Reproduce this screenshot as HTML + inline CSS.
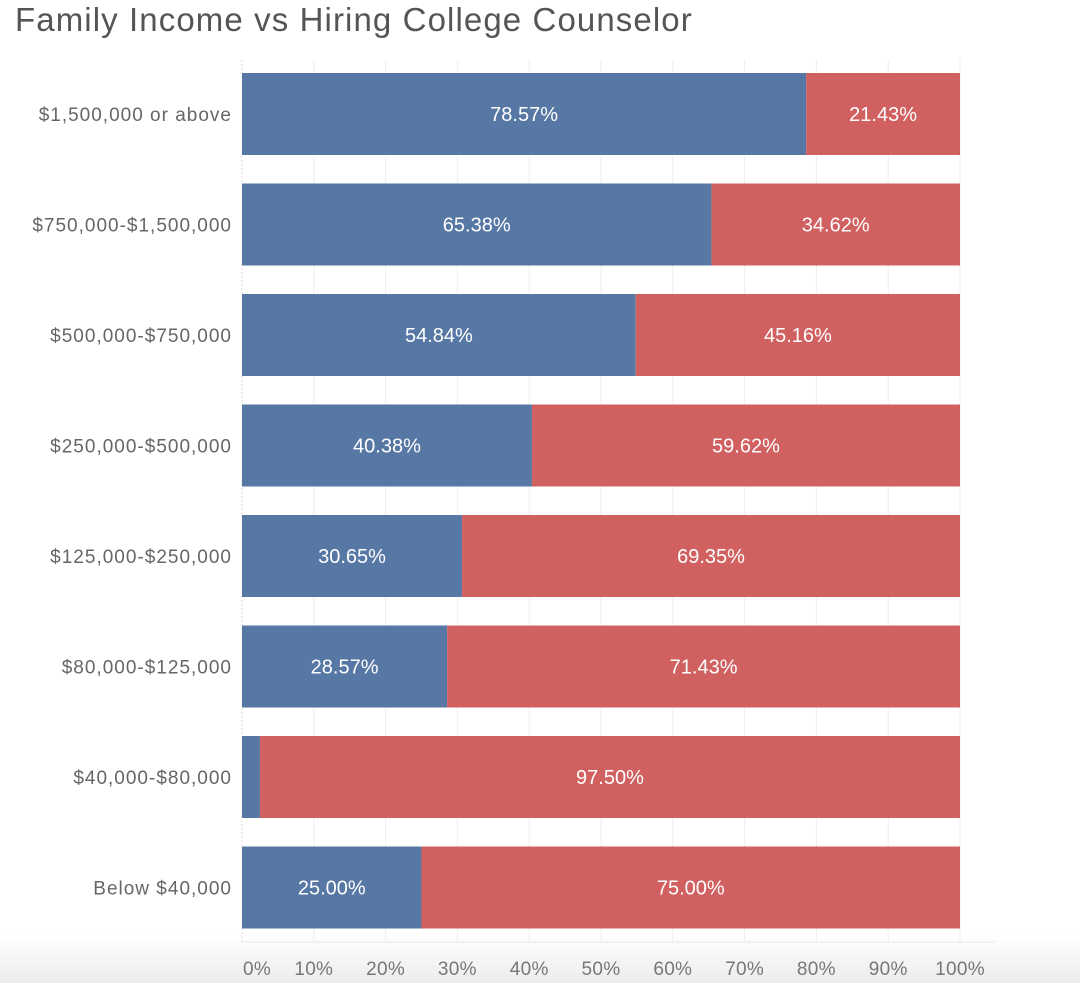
<!DOCTYPE html>
<html><head><meta charset="utf-8"><style>
body{margin:0;width:1080px;height:983px;background:#fff;overflow:hidden;font-family:"Liberation Sans",sans-serif}
#bg{position:absolute;left:0;top:935px;width:1080px;height:48px;background:linear-gradient(#fff,#ececec)}
h1{position:absolute;left:15px;top:1px;margin:0;font-weight:normal;font-size:33px;color:#555;letter-spacing:1.1px}
svg{position:absolute;left:0;top:0}
</style></head><body>
<div id="bg"></div>
<h1>Family Income vs Hiring College Counselor</h1>
<svg id="c" width="1080" height="983"></svg>
<script>
const categories=["$1,500,000 or above","$750,000-$1,500,000","$500,000-$750,000","$250,000-$500,000","$125,000-$250,000","$80,000-$125,000","$40,000-$80,000","Below $40,000"];
const hired=[78.57,65.38,54.84,40.38,30.65,28.57,2.50,25.00];
const notHired=[21.43,34.62,45.16,59.62,69.35,71.43,97.50,75.00];
const ticks=[0,10,20,30,40,50,60,70,80,90,100];
const NS="http://www.w3.org/2000/svg";
const svg=document.getElementById('c');
const x=v=>242+v*(960-242)/100;
const y=i=>73+i*110.5;
const BH=82;
function mk(t,a,p){const e=document.createElementNS(NS,t);for(const k in a)e.setAttribute(k,a[k]);(p||svg).appendChild(e);return e;}
ticks.forEach(t=>{
  const g=mk('line',{x1:x(t),x2:x(t),y1:60,y2:942,stroke:t===0?'#ddd':'#eee','stroke-width':1,'stroke-dasharray':t===0?'2,2':''});
  
  
  const l=mk('text',{x:t===0?x(t)+1:x(t),y:975,'text-anchor':t===0?'start':'middle','font-size':19,fill:'#777','letter-spacing':0.3});
  l.textContent=t+'%';
  
  
});
mk('line',{x1:242,x2:995,y1:942,y2:942,stroke:'#e6e6e6'});
categories.forEach((c,i)=>{
  const yy=y(i);
  const lab=mk('text',{x:232,y:yy+BH/2+7,'text-anchor':'end','font-size':19,fill:'#666','letter-spacing':1});
  lab.textContent=c;
  
  
  const b1=mk('rect',{x:x(0),y:yy,width:x(hired[i])-x(0),height:BH,fill:'#5778a4'});
  
  
  const b2=mk('rect',{x:x(hired[i]),y:yy,width:x(hired[i]+notHired[i])-x(hired[i]),height:BH,fill:'#d16061'});
  
  
  if(hired[i]>10){
    const t1=mk('text',{x:x(hired[i]/2),y:yy+BH/2+7,'text-anchor':'middle','font-size':20,fill:'#fff'});
    t1.textContent=hired[i].toFixed(2)+'%';
    
    
  }
  const t2=mk('text',{x:x(hired[i]+notHired[i]/2),y:yy+BH/2+7,'text-anchor':'middle','font-size':20,fill:'#fff'});
  t2.textContent=notHired[i].toFixed(2)+'%';
  
  
});
</script>
</body></html>
